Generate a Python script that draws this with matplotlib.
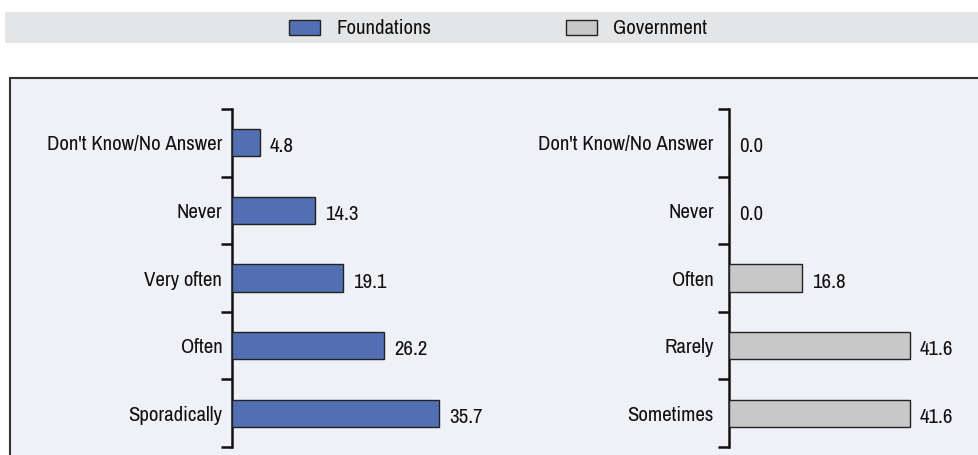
import matplotlib
matplotlib.use("Agg")
import matplotlib.pyplot as plt
from matplotlib.patches import Rectangle

plt.rcParams['font.family'] = ['Archivo Narrow', 'Liberation Sans Narrow', 'DejaVu Sans']
plt.rcParams['font.stretch'] = 'condensed'

found_cats = ["Don't Know/No Answer", "Never", "Very often", "Often", "Sporadically"]
found_vals = [4.8, 14.3, 19.1, 26.2, 35.7]
gov_cats = ["Don't Know/No Answer", "Never", "Often", "Rarely", "Sometimes"]
gov_vals = [0.0, 0.0, 16.8, 41.6, 41.6]
series_names = ["Foundations", "Government"]

BLUE = '#536fb3'
GRAY = '#c8c8c9'
PANEL = '#f0f1f6'
FS = 15

W, H = 979, 455
fig = plt.figure(figsize=(W / 100, H / 100), dpi=100)
fig.patch.set_facecolor('white')

# legend band
fig.add_artist(Rectangle((5 / W, 1 - 43 / H), 1, 31 / H, transform=fig.transFigure,
                         facecolor='#e4e5e7', edgecolor='none', zorder=0))
# panel
fig.add_artist(Rectangle((10 / W, -0.1), 1.2, 1 - 78 / H + 0.1, transform=fig.transFigure,
                         facecolor=PANEL, edgecolor='#333333', linewidth=1.5, zorder=0))

# legend entries
for x0, name, col in [(289, series_names[0], BLUE), (566, series_names[1], GRAY)]:
    fig.add_artist(Rectangle((x0 / W, 1 - 35 / H), 31 / W, 15 / H, transform=fig.transFigure,
                             facecolor=col, edgecolor='#222222', linewidth=1.0, zorder=2))
    fig.text((x0 + 47) / W, 1 - 28 / H, name, fontsize=FS, va='center', ha='left', color='#111111')

top, bot = 109, 447

def panel(left_px, width_px, xmax, cats, vals, color, pad):
    ax = fig.add_axes([left_px / W, 1 - bot / H, width_px / W, (bot - top) / H])
    ax.set_facecolor('none')
    n = len(cats)
    ys = list(range(n))
    ax.barh(ys, vals, height=0.4, color=color, edgecolor='#222222', linewidth=1.0, zorder=3)
    ax.set_ylim(n - 0.5, -0.5)
    ax.set_xlim(0, xmax)
    ax.set_yticks(ys)
    ax.set_yticklabels(cats, fontsize=FS, color='#111111')
    ax.tick_params(axis='y', which='major', length=0, pad=pad)
    ax.set_yticks([i - 0.5 for i in range(n + 1)], minor=True)
    ax.tick_params(axis='y', which='minor', length=8, width=1.8, color='#111111')
    ax.set_xticks([])
    for s in ['top', 'right', 'bottom']:
        ax.spines[s].set_visible(False)
    ax.spines['left'].set_linewidth(1.8)
    ax.spines['left'].set_color('#111111')
    for y, v in zip(ys, vals):
        ax.annotate(f"{v:.1f}", (v, y), xytext=(10, -4), textcoords='offset pixels',
                    ha='left', va='center', fontsize=FS, color='#111111')
    return ax

panel(232, 248, 42.8, found_cats, found_vals, BLUE, 7)
panel(729, 217, 49.9, gov_cats, gov_vals, GRAY, 11)

fig.savefig('out.png', dpi=100, facecolor='white')
